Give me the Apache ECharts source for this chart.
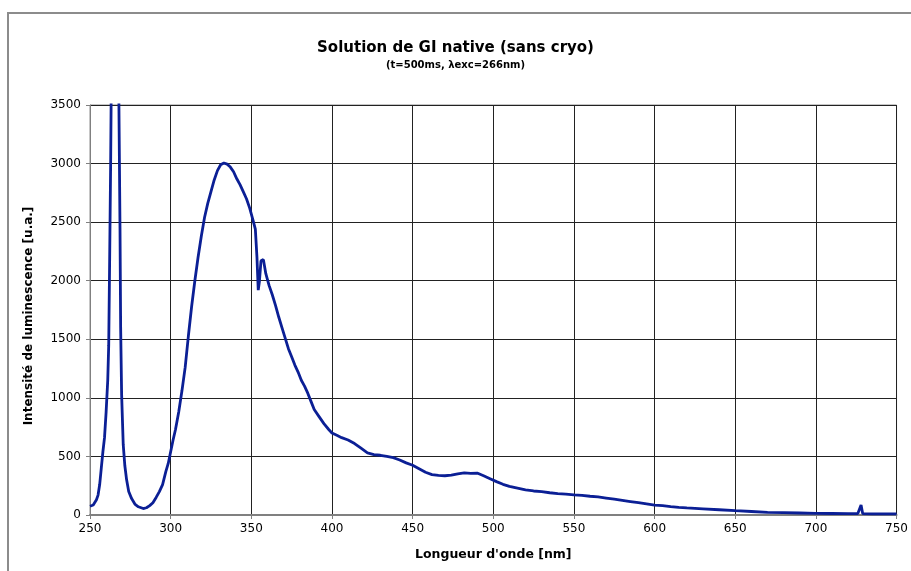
<!DOCTYPE html>
<html>
<head>
<meta charset="utf-8">
<script src="https://cdn.jsdelivr.net/npm/echarts@6/dist/echarts.min.js"></script>
<style>
  html, body { margin: 0; padding: 0; background: #fff; }
  #chart { width: 911px; height: 571px; }
</style>
</head>
<body>
<div id="chart"></div>
<script>
// longueur d'onde (nm) et intensité
const wavelength = [
  250, 252, 254, 255, 256, 257, 258, 259, 260, 261, 261.6, 262.2, 262.8, 263.2, 265.5, 267.8,
  268.6, 269, 269.6, 270.6, 271.6, 272.7, 274, 275.8, 278, 280, 283, 285, 287, 289,
  291, 293, 295, 297, 298.5, 300, 301.5, 303, 305, 307, 309, 311, 313, 315, 317, 319,
  321, 323, 325, 327, 329, 331, 333, 335, 337, 339, 341, 343, 345, 347, 349, 351,
  352.5, 353.5, 354.3, 355, 356, 357.5, 359, 361, 363, 365, 367, 369, 371, 373, 375,
  377, 379, 381, 383, 385, 387, 389, 392, 395, 398, 400, 403, 406, 410, 414, 418, 422,
  426, 430, 434, 438, 442, 446, 450, 454, 458, 462, 466, 470, 474, 478, 482, 486, 490,
  494, 498, 502, 506, 510, 515, 520, 525, 530, 535, 540, 545, 550, 555, 560, 565, 570,
  575, 580, 585, 590, 595, 600, 605, 610, 615, 620, 625, 630, 640, 650, 660, 670, 680,
  690, 700, 710, 720, 726, 727, 728, 729, 735, 740, 745, 750
];
const intensity = [
  75, 85, 130, 170, 260, 400, 540, 660, 880, 1150, 1450, 2200, 3000, 3700, 8500, 3700,
  2450, 1600, 1030, 600, 420, 300, 200, 140, 90, 70, 55, 62, 80, 105,
  150, 200, 260, 370, 440, 540, 640, 730, 880, 1060, 1260, 1530, 1780, 2000, 2200, 2380,
  2540, 2660, 2760, 2860, 2940, 2990, 3005, 2995, 2970, 2930, 2870, 2820, 2760, 2700, 2620, 2520,
  2440, 2200, 1920, 1990, 2170, 2180, 2060, 1960, 1880, 1790, 1690, 1600, 1510, 1420, 1350,
  1280, 1220, 1150, 1100, 1040, 970, 900, 840, 780, 730, 700, 680, 660, 640, 610, 570, 530,
  515, 510, 500, 490, 470, 445, 425, 395, 365, 345, 338, 335, 340, 352, 360, 355, 358,
  335, 310, 285, 262, 245, 230, 215, 205, 200, 190, 182, 178, 172, 168, 160, 155, 145,
  135, 125, 115, 105, 95, 85, 80, 72, 65, 60, 57, 53, 45, 37, 30, 23, 20,
  17, 14, 13, 12, 12, 14, 85, 12, 10, 10, 9, 9
];
const xTicks = [250, 750, 50];
const yTicks = [0, 3500, 500];

const points = wavelength.map((w, i) => [w, intensity[i]]);
const font = "DejaVu Sans";

let chart = echarts.init(document.getElementById("chart"));
chart.setOption({
  animation: false,
  backgroundColor: "#fff",
  title: {
    text: "Solution de GI native (sans cryo)",
    subtext: "(t=500ms, λexc=266nm)",
    left: "center",
    top: 36,
    itemGap: 4,
    textStyle: { fontFamily: font, fontSize: 15, fontWeight: "bold", color: "#000" },
    subtextStyle: { fontFamily: font, fontSize: 10, fontWeight: "bold", color: "#000" }
  },
  graphic: [
    {
      type: "rect",
      shape: { x: 8, y: 13, width: 960, height: 620 },
      style: { fill: "none", stroke: "#8c8c8c", lineWidth: 2 }
    }
  ],
  grid: {
    left: 90, right: 14, top: 105, bottom: 56,
    show: true, borderColor: "#8c8c8c", borderWidth: 1
  },
  xAxis: {
    type: "value",
    min: xTicks[0], max: xTicks[1], interval: xTicks[2],
    name: "Longueur d'onde [nm]",
    nameLocation: "middle",
    nameGap: 33,
    nameTextStyle: { fontFamily: font, fontSize: 12.5, fontWeight: "bold", color: "#000" },
    axisLine: { lineStyle: { color: "#808080", width: 2 } },
    axisTick: { length: 4, lineStyle: { color: "#808080" } },
    axisLabel: { fontFamily: font, fontSize: 12, color: "#000", margin: 8 },
    splitLine: { show: true, lineStyle: { color: "#222", width: 1 } }
  },
  yAxis: {
    type: "value",
    min: yTicks[0], max: yTicks[1], interval: yTicks[2],
    name: "Intensité de luminescence [u.a.]",
    nameLocation: "middle",
    nameGap: 55,
    nameTextStyle: { fontFamily: font, fontSize: 12, fontWeight: "bold", color: "#000", padding: [0, 12, 0, 0] },
    axisLine: { show: true, lineStyle: { color: "#808080", width: 1 } },
    axisTick: { show: true, length: 4, lineStyle: { color: "#808080" } },
    axisLabel: { fontFamily: font, fontSize: 12, color: "#000", margin: 9, formatter: v => String(v) },
    splitLine: { show: true, lineStyle: { color: "#222", width: 1 } }
  },
  series: [
    {
      type: "line",
      data: points,
      showSymbol: false,
      clip: true,
      lineStyle: { color: "#0b1f95", width: 2.8 },
      itemStyle: { color: "#0b1f95" }
    }
  ]
});
</script>
</body>
</html>
